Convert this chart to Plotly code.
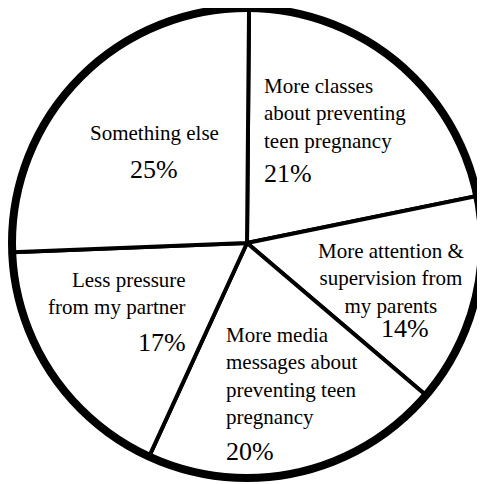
import plotly.graph_objects as go

# ---- data ----
categories = [
    "More classes about preventing teen pregnancy",
    "More attention & supervision from my parents",
    "More media messages about preventing teen pregnancy",
    "Less pressure from my partner",
    "Something else",
]
label_lines = [
    "More classes<br>about preventing<br>teen pregnancy",
    "More attention &<br>supervision from<br>my parents",
    "More media<br>messages about<br>preventing teen<br>pregnancy",
    "Less pressure<br>from my partner",
    "Something else",
]
values = [21, 14, 20, 17, 25]
pct_labels = [f"{v}%" for v in values]

# page body has an 8px margin, so the figure is offset by (8, 8)
OFF = 8
W, H = 485 - OFF, 484 - OFF
CX, CY, R = 247, 243, 235  # pie centre / radius in window pixels


def px(x):
    return (x - OFF) / W


def py(y):
    return 1 - (y - OFF) / H


fig = go.Figure(
    go.Pie(
        labels=categories,
        values=values,
        sort=False,
        direction="clockwise",
        rotation=0.5,
        textinfo="none",
        hoverinfo="label+value",
        marker=dict(colors=["white"] * len(values), line=dict(color="black", width=4)),
        domain=dict(x=[px(CX - R), px(CX + R)], y=[py(CY + R), py(CY - R)]),
        showlegend=False,
    )
)

FONT = "Liberation Serif"
LBL = 21
PCT = 26

# label placements in window pixels (anchor x, centre y, alignment)
label_pos = [
    (263, 113, "left"),
    (391, 278, "center"),
    (225, 376, "left"),
    (187, 293, "right"),
    (154, 133, "center"),
]
pct_pos = [
    (263, 173, "left"),
    (405, 328, "center"),
    (225, 451, "left"),
    (187, 342, "right"),
    (153.5, 169, "center"),
]

annotations = []
for txt, (x, y, a) in zip(label_lines, label_pos):
    annotations.append(dict(
        text=txt, x=px(x), y=py(y), xref="paper", yref="paper",
        xanchor=a, yanchor="middle", align=a, showarrow=False, borderpad=0,
        font=dict(family=FONT, size=LBL, color="black"),
    ))
for txt, (x, y, a) in zip(pct_labels, pct_pos):
    annotations.append(dict(
        text=txt, x=px(x), y=py(y), xref="paper", yref="paper",
        xanchor=a, yanchor="middle", align=a, showarrow=False, borderpad=0,
        font=dict(family=FONT, size=PCT, color="black"),
    ))

fig.update_layout(
    width=W,
    height=H,
    margin=dict(l=0, r=0, t=0, b=0),
    paper_bgcolor="white",
    plot_bgcolor="white",
    font=dict(family=FONT, color="black"),
    annotations=annotations,
    shapes=[dict(
        type="circle", xref="paper", yref="paper",
        x0=px(CX - R), x1=px(CX + R), y0=py(CY + R), y1=py(CY - R),
        line=dict(color="black", width=8), fillcolor="rgba(0,0,0,0)",
        layer="above",
    )],
)

fig.write_html("out.html")
